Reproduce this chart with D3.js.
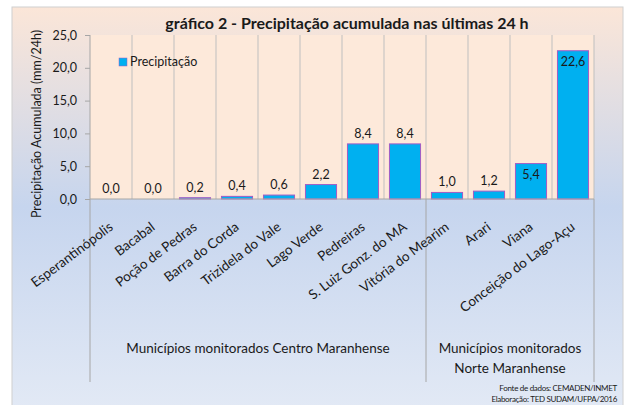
<!DOCTYPE html>
<html>
<head>
<meta charset="utf-8">
<script src="https://cdnjs.cloudflare.com/ajax/libs/d3/7.8.5/d3.min.js"></script>
<style>
  body { margin: 0; background: #fff; }
  text { font-family: Lato, "Open Sans", sans-serif; fill: #1a1a1a; }
</style>
</head>
<body>
<div id="chart"></div>
<script>
var municipios = ["Esperantinópolis", "Bacabal", "Poção de Pedras", "Barra do Corda",
    "Trizidela do Vale", "Lago Verde", "Pedreiras", "S. Luiz Gonz. do MA",
    "Vitória do Mearim", "Arari", "Viana", "Conceição do Lago-Açu"];
var precipitacao = [0.0, 0.0, 0.2, 0.4, 0.6, 2.2, 8.4, 8.4, 1.0, 1.2, 5.4, 22.6];
// municipalities whose value label sits inside the bar top
var rotuloDentro = ["Viana", "Conceição do Lago-Açu"];
var grupos = [
    { nome: ["Municípios monitorados Centro Maranhense"], inicio: 0, fim: 8 },
    { nome: ["Municípios monitorados", "Norte Maranhense"], inicio: 8, fim: 12 }
];
var yTicks = [0, 5, 10, 15, 20, 25];

var full_width = 630, full_height = 405;
var margin = { top: 35, left: 90, right: 36, bottom: 206 };
var width = full_width - margin.left - margin.right;   // 504
var height = full_height - margin.top - margin.bottom; // 164

var fmt = function(v) { return d3.format(".1f")(v).replace(".", ","); };

var svg = d3.select("#chart").append("svg")
    .attr("width", full_width)
    .attr("height", full_height);

// background gradient of the chart box
var defs = svg.append("defs");
var grad = defs.append("linearGradient")
    .attr("id", "bg")
    .attr("x1", 0).attr("y1", 0).attr("x2", 0).attr("y2", 1);
grad.append("stop").attr("offset", "0%").attr("stop-color", "#fbe6d8");
grad.append("stop").attr("offset", "50%").attr("stop-color", "#c6d5ee");
grad.append("stop").attr("offset", "100%").attr("stop-color", "#e2e9f5");

svg.append("rect")
    .attr("x", 12).attr("y", 7)
    .attr("width", 611).attr("height", 400)
    .attr("fill", "url(#bg)")
    .attr("stroke", "#d0d0d0");

var x = d3.scaleBand()
    .domain(d3.range(municipios.length))
    .range([0, width])
    .paddingInner(0.26)
    .paddingOuter(0.13);

var step = width / municipios.length;

var y = d3.scaleLinear()
    .domain([0, 25])
    .range([height, 0]);

var g = svg.append("g")
    .attr("transform", "translate(" + margin.left + "," + margin.top + ")");

// plot area
g.append("rect")
    .attr("width", width)
    .attr("height", height)
    .attr("fill", "#fde9da");

// vertical category lines inside the plot
g.selectAll(".vline")
    .data(d3.range(1, municipios.length + 1))
    .enter().append("line")
    .attr("class", "vline")
    .attr("x1", function(d) { return d * step; })
    .attr("x2", function(d) { return d * step; })
    .attr("y1", 0)
    .attr("y2", height)
    .attr("stroke", "#bfbfbf");

// group separators below the axis
g.selectAll(".gline")
    .data([0, 8, 12])
    .enter().append("line")
    .attr("class", "gline")
    .attr("x1", function(d) { return d * step; })
    .attr("x2", function(d) { return d * step; })
    .attr("y1", height)
    .attr("y2", 347)
    .attr("stroke", "#a6a6a6");

// bars
g.selectAll(".bar")
    .data(precipitacao)
    .enter().append("rect")
    .attr("class", "bar")
    .attr("x", function(d, i) { return x(i); })
    .attr("y", function(d) { return y(d); })
    .attr("width", x.bandwidth())
    .attr("height", function(d) { return height - y(d); })
    .attr("fill", "#00b0f0")
    .attr("stroke", "#a35cc4")
    .attr("stroke-width", 1);

// value labels
g.selectAll(".val")
    .data(precipitacao)
    .enter().append("text")
    .attr("class", "val")
    .attr("x", function(d, i) { return x(i) + x.bandwidth() / 2; })
    .attr("y", function(d, i) {
        return rotuloDentro.indexOf(municipios[i]) >= 0 ? y(d) + 15 : y(d) - 6;
    })
    .attr("text-anchor", "middle")
    .style("font-size", "12.5px")
    .text(function(d) { return fmt(d); });

// x axis baseline
g.append("line")
    .attr("x1", 0).attr("x2", width)
    .attr("y1", height).attr("y2", height)
    .attr("stroke", "#a6a6a6");

// y axis
var yAxis = g.append("g")
    .call(d3.axisLeft(y).tickValues(yTicks).tickSize(5).tickPadding(8).tickFormat(fmt));
yAxis.select(".domain").remove();
yAxis.selectAll("line").attr("stroke", "#a6a6a6");
yAxis.selectAll("text")
    .style("font-family", "Lato, sans-serif")
    .style("font-size", "12.5px")
    .attr("fill", "#1a1a1a");
g.append("line")
    .attr("x1", 0).attr("x2", 0)
    .attr("y1", 0).attr("y2", height)
    .attr("stroke", "#a6a6a6");

// category labels
g.selectAll(".cat")
    .data(municipios)
    .enter().append("text")
    .attr("class", "cat")
    .attr("text-anchor", "end")
    .attr("transform", function(d, i) {
        return "translate(" + (i * step + step / 2) + "," + (height + 26) + ") rotate(-37)";
    })
    .attr("dy", "0.35em")
    .style("font-size", "13.5px")
    .text(function(d) { return d; });

// group labels
grupos.forEach(function(gr) {
    var cx = (gr.inicio + gr.fim) / 2 * step;
    gr.nome.forEach(function(linha, k) {
        g.append("text")
            .attr("x", cx)
            .attr("y", 318 + k * 20)
            .attr("text-anchor", "middle")
            .style("font-size", "13.5px")
            .text(linha);
    });
});

// title
svg.append("text")
    .attr("x", 347)
    .attr("y", 29)
    .attr("text-anchor", "middle")
    .style("font-size", "16px")
    .style("font-weight", "bold")
    .text("gráfico 2 - Precipitação acumulada nas últimas 24 h");

// y axis label
svg.append("text")
    .attr("transform", "translate(41,124) rotate(-90)")
    .attr("text-anchor", "middle")
    .style("font-size", "12.5px")
    .text("Precipitação Acumulada (mm/24h)");

// legend
svg.append("rect")
    .attr("x", 119).attr("y", 58)
    .attr("width", 8).attr("height", 8)
    .attr("fill", "#00b0f0")
    .attr("stroke", "#a35cc4")
    .attr("stroke-width", 0.5);
svg.append("text")
    .attr("x", 130).attr("y", 66)
    .style("font-size", "12.5px")
    .text("Precipitação");

// source
svg.append("text")
    .attr("x", 617).attr("y", 391)
    .attr("text-anchor", "end")
    .style("font-size", "8px")
    .style("letter-spacing", "-0.3px")
    .text("Fonte de dados: CEMADEN/INMET");
svg.append("text")
    .attr("x", 617).attr("y", 402)
    .attr("text-anchor", "end")
    .style("font-size", "8px")
    .style("letter-spacing", "-0.3px")
    .text("Elaboração: TED SUDAM/UFPA/2016");
</script>
</body>
</html>
